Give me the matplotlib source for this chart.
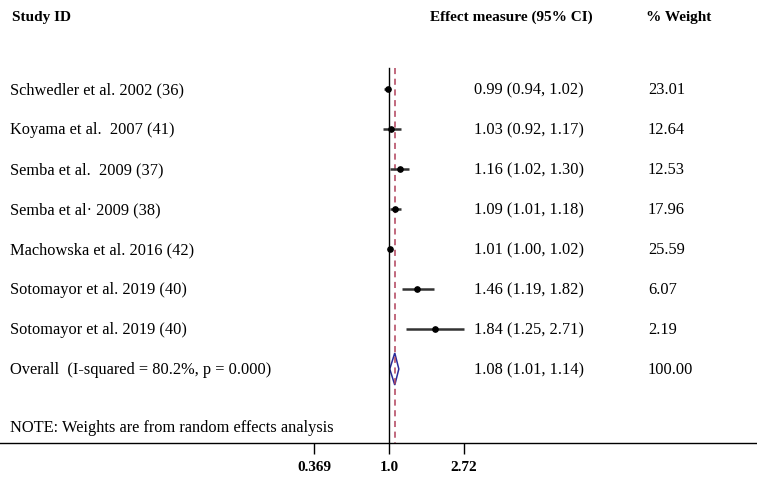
import numpy as np
import matplotlib.pyplot as plt
import matplotlib.transforms as mtransforms

# datos del forest plot
estudios = ["Schwedler et al. 2002 (36)", "Koyama et al.  2007 (41)", "Semba et al.  2009 (37)",
            "Semba et al\u00b7 2009 (38)", "Machowska et al. 2016 (42)", "Sotomayor et al. 2019 (40)",
            "Sotomayor et al. 2019 (40)"]
efecto = [0.99, 1.03, 1.16, 1.09, 1.01, 1.46, 1.84]
ic_inf = [0.94, 0.92, 1.02, 1.01, 1.00, 1.19, 1.25]
ic_sup = [1.02, 1.17, 1.30, 1.18, 1.02, 1.82, 2.71]
peso = ["23.01", "12.64", "12.53", "17.96", "25.59", "6.07", "2.19"]
global_es, global_inf, global_sup = 1.08, 1.01, 1.14
global_txt = "Overall  (I-squared = 80.2%, p = 0.000)"
global_peso = "100.00"
ticks = [0.369, 1.0, 2.72]
tick_labels = ["0.369", "1.0", "2.72"]

plt.rcParams['font.family'] = ['Liberation Serif', 'DejaVu Serif']

W, H = 757, 480
fig = plt.figure(figsize=(W/100, H/100), dpi=100)
ax = fig.add_axes([0, (H-443)/H, 1, 443/H])

# escala log natural: 1.0 en x=389 px, 75 px por unidad de ln
px_unit = 75.0
ax.set_xscale('log')
ax.set_xlim(np.exp(-389/px_unit), np.exp((W-389)/px_unit))
# filas cada 40 px, primera en y=89 px
ax.set_ylim((443-89)/40, -89/40)

for s in ['top', 'right', 'left']:
    ax.spines[s].set_visible(False)
ax.spines['bottom'].set_linewidth(1.0)
ax.set_yticks([])
ax.set_xticks(ticks)
ax.set_xticklabels(tick_labels, fontweight='bold', fontsize=11)
ax.xaxis.set_minor_locator(plt.NullLocator())
ax.tick_params(axis='x', direction='out', length=8, width=1, pad=5)

y_top = (68-89)/40
ax.plot([1, 1], [y_top, (443-89)/40], color='black', lw=1.0)
ax.plot([global_es, global_es], [y_top, (443-89)/40], color='#b0405a', lw=1.1,
        dashes=(4, 3))

tr = mtransforms.blended_transform_factory(ax.transAxes, ax.transData)
fs = 11.8
for i, nombre in enumerate(estudios):
    ax.plot([ic_inf[i], ic_sup[i]], [i, i], color='#333333', lw=1.8, solid_capstyle='butt')
    ax.plot(efecto[i], i, marker='o', ms=3.8, color='black')
    ax.text(10/W, i + 0.03, nombre, transform=tr, va='center', ha='left', fontsize=fs)
    ax.text(474/W, i + 0.03, f"{efecto[i]:.2f} ({ic_inf[i]:.2f}, {ic_sup[i]:.2f})", transform=tr,
            va='center', ha='left', fontsize=fs)
    ax.text(648/W, i + 0.03, peso[i], transform=tr, va='center', ha='left', fontsize=fs)

yg = len(estudios)
ax.fill([global_inf, global_es, global_sup, global_es],
        [yg, yg - 0.4, yg, yg + 0.4], facecolor='white', edgecolor='#2a2a9a', lw=1.1)
ax.text(10/W, yg + 0.03, global_txt, transform=tr, va='center', ha='left', fontsize=fs)
ax.text(474/W, yg + 0.03, f"{global_es:.2f} ({global_inf:.2f}, {global_sup:.2f})", transform=tr,
        va='center', ha='left', fontsize=fs)
ax.text(648/W, yg + 0.03, global_peso, transform=tr, va='center', ha='left', fontsize=fs)

ax.text(10/W, (428-89)/40, "NOTE: Weights are from random effects analysis", transform=tr,
        va='center', ha='left', fontsize=fs)

# encabezados
yh = (17-89)/40
ax.text(12/W, yh, "Study ID", transform=tr, va='center', ha='left', fontsize=11, fontweight='bold')
ax.text(430/W, yh, "Effect measure (95% CI)", transform=tr, va='center', ha='left', fontsize=11,
        fontweight='bold')
ax.text(646/W, yh, "% Weight", transform=tr, va='center', ha='left', fontsize=11, fontweight='bold')

fig.savefig('out.png', dpi=100)
